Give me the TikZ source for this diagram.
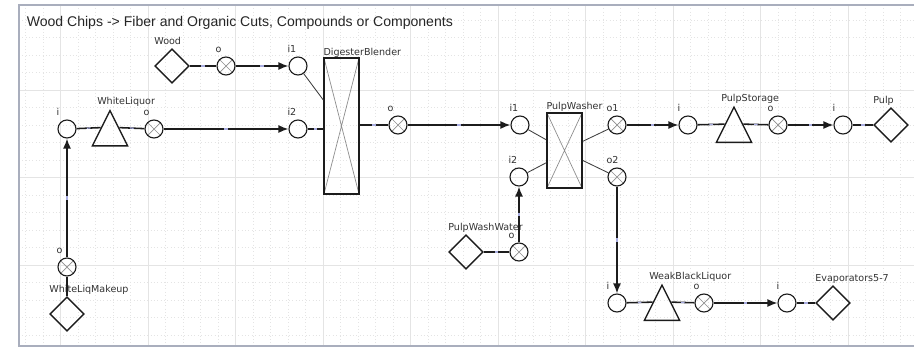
\documentclass[tikz,border=0pt]{standalone}
\usepackage{fontspec}
\setmainfont{DejaVu Sans}
\newfontfamily\titlefont{Liberation Sans}
\definecolor{Ink}{HTML}{1C1C1C}
\definecolor{LabelText}{HTML}{333333}
\definecolor{CrossGray}{HTML}{8E8E8E}
\definecolor{FrameLine}{HTML}{A9AEBD}
\definecolor{GridLine}{HTML}{E4E4E4}
\definecolor{MarkBlue}{HTML}{A9ADE0}
\usetikzlibrary{shapes.geometric, arrows.meta, calc}

\begin{document}
\begin{tikzpicture}[x=0.025cm, y=-0.025cm, >={Latex[length=2.5mm, width=2mm]},
  xcross/.style={path picture={\draw[CrossGray, line width=0.5pt]
      (path picture bounding box.north west) -- (path picture bounding box.south east)
      (path picture bounding box.south west) -- (path picture bounding box.north east);}},
  ext/.style={diamond, draw=Ink, line width=1pt, aspect=1, inner sep=0,
              minimum width=0.86cm, minimum height=0.86cm},
  tank/.style={isosceles triangle, isosceles triangle stretches, shape border rotate=90,
               draw=Ink, line width=1pt, inner sep=0, minimum width=0.88cm,
               minimum height=0.88cm, anchor=lower side},
  unit/.style={rectangle, draw=Ink, line width=1.1pt, inner sep=0,
               minimum width=0.875cm, xcross},
  pin/.style={circle, draw=Ink, line width=0.8pt, inner sep=0, minimum size=0.45cm},
  pout/.style={pin, xcross},
  plbl/.style={font=\fontsize{6.8}{8}\selectfont, text=LabelText, inner sep=0,
               anchor=base west, xshift=-1mm, yshift=1.75mm},
  clbl/.style={font=\fontsize{6.8}{8}\selectfont, text=LabelText, inner sep=0,
               anchor=base west, yshift=1mm},
  ttl/.style={font=\titlefont\fontsize{10}{12}\selectfont, text=black!85,
              inner sep=0, anchor=base west},
  flow/.style={->, draw=Ink, line width=1.1pt},
  link/.style={draw=Ink, line width=1.1pt},
  attach/.style={draw=Ink!85, line width=0.6pt},
  bmark/.style={midway, sloped, rectangle, fill=MarkBlue, inner sep=0,
                minimum width=0.9mm, minimum height=0.3mm},
  gridminor/.style={GridLine, dotted, line width=0.4pt},
  gridmajor/.style={GridLine, line width=0.6pt}
]
\useasboundingbox (0,0) rectangle (914,350);
\fill[white] (0,0) rectangle (914,350);

%% ---- sheet: grid and frame ----
\begin{scope}
  \clip (19,5) rectangle (914,346);
  \foreach \k in {3,...,54} \draw[gridminor] ({-27+17.5*\k},5) -- ({-27+17.5*\k},346);
  \foreach \k in {1,...,19} \draw[gridminor] (19,{2.5+17.5*\k}) -- (914,{2.5+17.5*\k});
  \foreach \k in {1,...,11} \draw[gridmajor] ({-27+87.5*\k},5) -- ({-27+87.5*\k},346);
  \foreach \k in {1,...,3} \draw[gridmajor] (19,{2.5+87.5*\k}) -- (914,{2.5+87.5*\k});
\end{scope}
\draw[FrameLine, line width=1.2pt] (19,5) rectangle (930,346);

\node[ttl] (title) at (26.5,26.5) {Wood Chips -> Fiber and Organic Cuts, Compounds or Components};

%% ---- Units ----
\node[ext]  (wood)  at (172,66)  {};
\node[tank] (wl)    at (110,146.5) {};
\node[unit, minimum height=3.4cm]   (dig) at (341.5,126) {};
\node[unit, minimum height=1.875cm] (pw)  at (564.5,150.5) {};
\node[tank] (ps)    at (734,143) {};
\node[ext]  (pulp)  at (891,125) {};
\node[ext]  (pww)   at (466,252) {};
\node[ext]  (wlm)   at (67,314)  {};
\node[tank] (wb)    at (662,321) {};
\node[ext]  (evap)  at (833,303) {};

\node[clbl] (woodlbl) at (wood.west |- wood.north) {Wood};
\node[clbl] (wllbl)   at (wl.west |- wl.apex) {WhiteLiquor};
\node[clbl, yshift=-0.5mm] (diglbl) at (dig.north west) {DigesterBlender};
\node[clbl, yshift=-0.4mm] (pwlbl)  at (pw.north west) {PulpWasher};
\node[clbl] (pslbl)   at (ps.west |- ps.apex) {PulpStorage};
\node[clbl] (pulplbl) at (pulp.west |- pulp.north) {Pulp};
\node[clbl] (pwwlbl)  at (pww.west |- pww.north) {PulpWashWater};
\node[clbl] (wlmlbl)  at (wlm.west |- wlm.north) {WhiteLiqMakeup};
\node[clbl] (wblbl)   at (wb.west |- wb.apex) {WeakBlackLiquor};
\node[clbl] (evaplbl) at (evap.west |- evap.north) {Evaporators5-7};

%% ---- Ports ----
\node[pout, label={[plbl]north west:o}]  (wood_o) at (226,66)  {};
\node[pin,  label={[plbl]north west:i1}] (dig_i1) at (298,66)  {};
\node[pin,  label={[plbl]north west:i}]  (wl_i)   at (67,129)  {};
\node[pout, label={[plbl]north west:o}]  (wl_o)   at (154,129) {};
\node[pin,  label={[plbl]north west:i2}] (dig_i2) at (298,129) {};
\node[pout, label={[plbl]north west:o}]  (dig_o)  at (398,125) {};
\node[pin,  label={[plbl]north west:i1}] (pw_i1)  at (520,125) {};
\node[pin,  label={[plbl]north west:i2}] (pw_i2)  at (519,177) {};
\node[pout, label={[plbl]north west:o1}] (pw_o1)  at (617,125) {};
\node[pout, label={[plbl]north west:o2}] (pw_o2)  at (617,177) {};
\node[pin,  label={[plbl]north west:i}]  (ps_i)   at (688,125) {};
\node[pout, label={[plbl]north west:o}]  (ps_o)   at (778,125) {};
\node[pin,  label={[plbl]north west:i}]  (pulp_i) at (843,125) {};
\node[pout, label={[plbl]north west:o}]  (pww_o)  at (519,252) {};
\node[pin,  label={[plbl]north west:i}]  (wb_i)   at (617,303) {};
\node[pout, label={[plbl]north west:o}]  (wb_o)   at (704,303) {};
\node[pin,  label={[plbl]north west:i}]  (evap_i) at (787,303) {};
\node[pout, label={[plbl]north west:o}]  (wlm_o)  at (67,267)  {};

%% ---- Wood and white liquor into the digester ----
\draw[link] (wood) -- node[bmark]{} (wood_o);
\draw[flow] (wood_o) -- node[bmark]{} (dig_i1);
\draw[attach] (dig_i1) -- ($(dig.north west)!0.31!(dig.south west)$);
\draw[link] (wl_i) -- node[bmark]{} (wl.left side);
\draw[link] (wl.right side) -- node[bmark]{} (wl_o);
\draw[flow] (wl_o) -- node[bmark]{} (dig_i2);
\draw[link] (dig_i2) -- node[bmark]{} (dig_i2 -| dig.west);

%% ---- Makeup ----
\draw[link] (wlm) -- (wlm_o);
\draw[flow] (wlm_o) -- node[bmark]{} (wl_i);

%% ---- Digester to washer ----
\draw[link] (dig_o -| dig.east) -- node[bmark]{} (dig_o);
\draw[flow] (dig_o) -- node[bmark]{} (pw_i1);
\draw[attach] (pw_i1) -- ($(pw.north west)!0.36!(pw.south west)$);
\draw[attach] (pw_i2) -- ($(pw.north west)!0.66!(pw.south west)$);
\draw[attach] ($(pw.north east)!0.38!(pw.south east)$) -- (pw_o1);
\draw[attach] ($(pw.north east)!0.63!(pw.south east)$) -- (pw_o2);
\draw[link] (pww) -- node[bmark]{} (pww_o);
\draw[flow] (pww_o) -- node[bmark]{} (pw_i2);

%% ---- Pulp line ----
\draw[flow] (pw_o1) -- node[bmark]{} (ps_i);
\draw[link] (ps_i) -- node[bmark]{} (ps.left side);
\draw[link] (ps.right side) -- node[bmark]{} (ps_o);
\draw[flow] (ps_o) -- node[bmark]{} (pulp_i);
\draw[link] (pulp_i) -- node[bmark]{} (pulp);

%% ---- Weak black liquor ----
\draw[flow] (pw_o2) -- node[bmark]{} (wb_i);
\draw[link] (wb_i) -- node[bmark]{} (wb.left side);
\draw[link] (wb.right side) -- node[bmark]{} (wb_o);
\draw[flow] (wb_o) -- node[bmark]{} (evap_i);
\draw[link] (evap_i) -- node[bmark]{} (evap);

\end{tikzpicture}
\end{document}
